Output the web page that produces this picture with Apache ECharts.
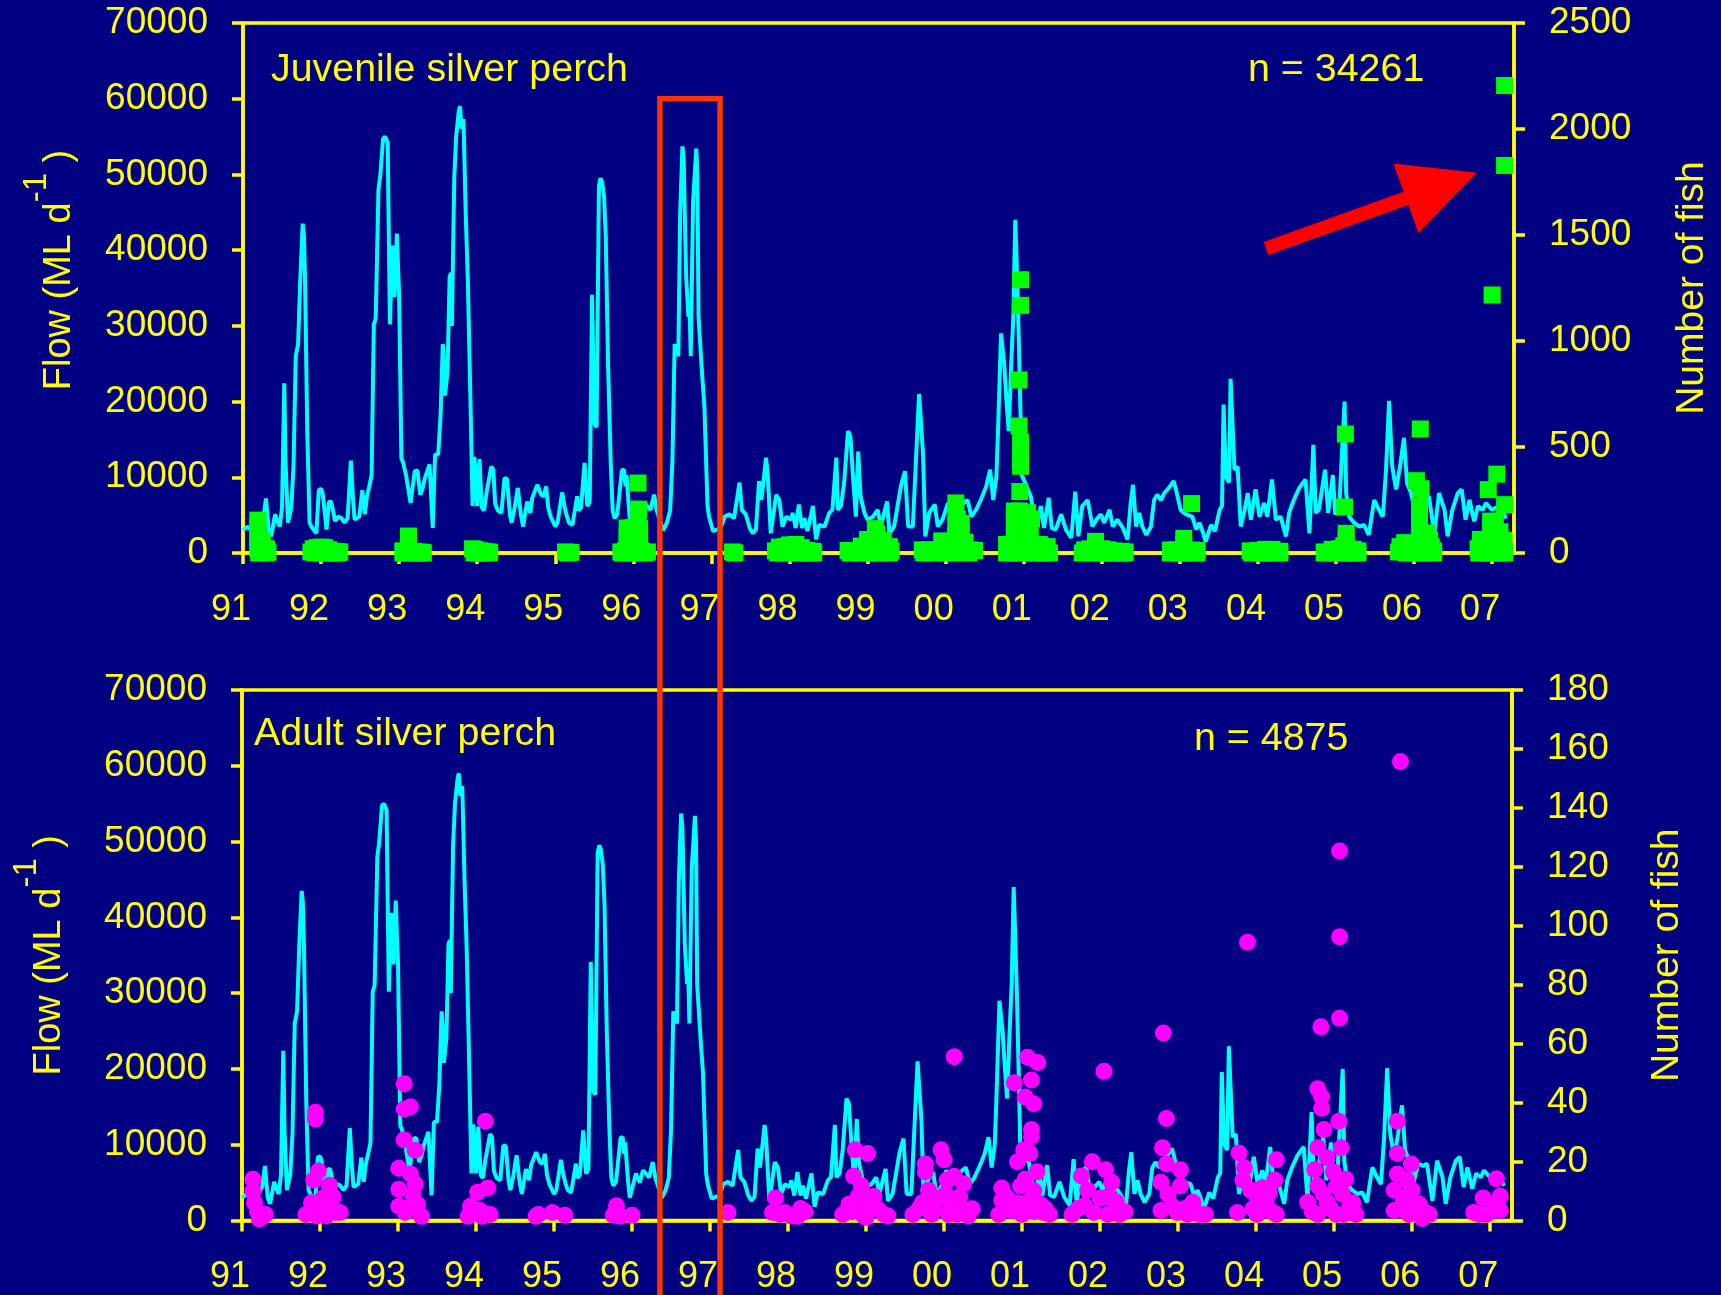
<!DOCTYPE html>
<html><head><meta charset="utf-8">
<script src="https://cdn.jsdelivr.net/npm/echarts@6/dist/echarts.min.js"></script>
<style>html,body{margin:0;padding:0;background:#000080;}#c{width:1721px;height:1295px;}</style>
</head><body><div id="c"></div>
<script>
// ---------- data ----------
const yearLabels = ['91','92','93','94','95','96','97','98','99','00','01','02','03','04','05','06','07'];
const flowTicks = [0,10000,20000,30000,40000,50000,60000,70000];
const juvenileTicks = [0,500,1000,1500,2000,2500];
const adultTicks = [0,20,40,60,80,100,120,140,160,180];

// daily flow (ML/d): [year, flow]
const flowData = [
[1991.00,3000],[1991.06,3500],[1991.12,2800],[1991.20,3200],[1991.26,4500],[1991.294,7200],[1991.33,3000],[1991.36,2200],[1991.412,5100],[1991.44,4200],[1991.471,3500],[1991.50,6000],[1991.529,22400],[1991.545,12000],[1991.576,4000],[1991.618,6000],[1991.647,11400],[1991.676,26000],[1991.706,27600],[1991.735,36500],[1991.765,43500],[1991.78,42000],[1991.794,36500],[1991.824,15600],[1991.853,4000],[1991.875,3500],[1991.94,2600],[1991.971,8300],[1992.00,8500],[1992.02,7900],[1992.05,5100],[1992.07,3100],[1992.10,6700],[1992.13,6800],[1992.18,4200],[1992.22,4800],[1992.26,4600],[1992.30,4000],[1992.34,4600],[1992.382,12200],[1992.41,7000],[1992.43,4400],[1992.49,4800],[1992.529,8300],[1992.56,5100],[1992.588,7500],[1992.618,8800],[1992.647,10300],[1992.676,30200],[1992.70,31000],[1992.735,48000],[1992.76,50000],[1992.794,54700],[1992.82,55000],[1992.853,54200],[1992.882,30200],[1992.912,40600],[1992.925,36000],[1992.941,33800],[1992.971,42200],[1992.985,38000],[1993.00,34000],[1993.029,12500],[1993.05,12000],[1993.088,10300],[1993.11,10300],[1993.147,6600],[1993.20,10800],[1993.235,10900],[1993.27,7700],[1993.30,8500],[1993.33,9900],[1993.39,11700],[1993.43,3300],[1993.46,13000],[1993.50,13000],[1993.53,18000],[1993.559,27600],[1993.575,25000],[1993.588,20800],[1993.62,24000],[1993.647,36500],[1993.665,37000],[1993.676,30000],[1993.706,49500],[1993.73,55000],[1993.765,58400],[1993.78,59000],[1993.80,56000],[1993.824,57300],[1993.853,44800],[1993.88,36000],[1993.912,20800],[1993.941,6200],[1993.965,12700],[1994.00,6200],[1994.029,12400],[1994.06,6000],[1994.088,5600],[1994.12,8000],[1994.18,11400],[1994.206,11000],[1994.23,6500],[1994.265,5600],[1994.31,5300],[1994.35,9900],[1994.382,9800],[1994.42,5000],[1994.441,4000],[1994.48,6000],[1994.52,8600],[1994.535,8800],[1994.56,5000],[1994.588,3500],[1994.64,6800],[1994.68,5300],[1994.706,7300],[1994.77,9000],[1994.794,9000],[1994.82,7700],[1994.854,7500],[1994.882,8800],[1994.91,6000],[1994.941,4800],[1995.00,3500],[1995.029,4000],[1995.088,8000],[1995.12,6000],[1995.15,4800],[1995.176,4000],[1995.22,3700],[1995.28,7500],[1995.30,5600],[1995.33,6000],[1995.375,11900],[1995.41,6200],[1995.441,6700],[1995.471,34100],[1995.50,17100],[1995.529,16600],[1995.559,48500],[1995.58,49500],[1995.60,49000],[1995.625,47000],[1995.647,41700],[1995.676,25000],[1995.71,12000],[1995.735,5600],[1995.76,4600],[1995.794,5100],[1995.853,10900],[1995.88,11000],[1995.90,8800],[1995.912,10300],[1995.95,5000],[1995.971,3000],[1996.05,6200],[1996.10,5000],[1996.14,6600],[1996.176,6200],[1996.22,5700],[1996.265,7700],[1996.30,5600],[1996.324,5600],[1996.382,3000],[1996.43,4000],[1996.471,5600],[1996.50,12000],[1996.529,27600],[1996.576,26000],[1996.60,45000],[1996.629,53700],[1996.645,52000],[1996.676,36500],[1996.706,31200],[1996.72,33000],[1996.735,26000],[1996.765,46400],[1996.806,53400],[1996.82,50000],[1996.835,31200],[1996.882,23400],
[1996.91,19400],[1996.95,6200],[1996.97,4800],[1997.02,2900],[1997.12,3300],[1997.17,4800],[1997.23,5100],[1997.29,4600],[1997.36,9300],[1997.39,5700],[1997.44,5100],[1997.49,3300],[1997.53,2600],[1997.57,3100],[1997.61,9500],[1997.64,7000],[1997.70,12600],[1997.72,10600],[1997.76,2600],[1997.83,7700],[1997.87,7000],[1997.91,3500],[1997.96,4800],[1998.02,4400],[1998.04,5300],[1998.08,3300],[1998.12,6400],[1998.16,3300],[1998.19,4600],[1998.23,2900],[1998.30,6200],[1998.34,1800],[1998.38,3700],[1998.45,3500],[1998.51,5300],[1998.55,5700],[1998.60,12600],[1998.62,5700],[1998.66,6200],[1998.70,9300],[1998.75,16100],[1998.78,15400],[1998.81,10600],[1998.85,4800],[1998.88,13400],[1998.91,7500],[1998.96,5300],[1999.00,4400],[1999.07,4800],[1999.13,5700],[1999.17,3500],[1999.25,6800],[1999.28,2600],[1999.34,3500],[1999.43,9000],[1999.48,10800],[1999.52,3500],[1999.58,3500],[1999.62,12300],[1999.66,21000],[1999.71,13200],[1999.74,2200],[1999.79,5300],[1999.86,6400],[1999.90,3500],[1999.96,4400],[2000.03,6600],[2000.09,5500],[2000.15,5300],[2000.22,6500],[2000.28,7000],[2000.33,4800],[2000.39,5700],[2000.45,7000],[2000.52,8800],[2000.57,11000],[2000.61,7000],[2000.65,10100],[2000.67,15800],[2000.71,29000],[2000.75,25000],[2000.78,20000],[2000.808,16100],[2000.84,25000],[2000.867,31200],[2000.892,44000],[2000.905,40000],[2000.933,30000],[2000.96,18000],[2000.975,10300],
[2001.09,7500],[2001.16,3100],[2001.22,6200],[2001.26,3300],[2001.32,7300],[2001.36,3300],[2001.41,3100],[2001.48,5100],[2001.54,3100],[2001.61,2000],[2001.66,8100],[2001.70,2200],[2001.75,6200],[2001.82,7000],[2001.88,3500],[2001.93,4400],[2001.99,5100],[2002.03,4000],[2002.10,5700],[2002.14,3500],[2002.20,4400],[2002.27,3300],[2002.33,1800],[2002.37,6600],[2002.40,9000],[2002.44,3500],[2002.48,5300],[2002.52,3500],[2002.57,2400],[2002.63,3500],[2002.67,7000],[2002.71,7700],[2002.76,7000],[2002.80,7900],[2002.86,8600],[2002.92,9500],[2002.95,8400],[2003.01,5700],[2003.08,5100],[2003.16,4800],[2003.21,3100],[2003.25,4000],[2003.29,2900],[2003.33,1500],[2003.40,3700],[2003.45,2900],[2003.51,5700],[2003.54,6200],[2003.56,19600],[2003.59,10100],[2003.63,9300],[2003.65,23000],[2003.70,11000],[2003.74,11400],[2003.78,3500],[2003.83,5700],[2003.87,7900],[2003.91,4400],[2003.97,8400],[2004.02,4800],[2004.08,6600],[2004.12,4800],[2004.18,9700],[2004.23,4400],[2004.29,4800],[2004.36,2200],[2004.40,5300],[2004.46,7000],[2004.53,8600],[2004.61,9700],[2004.66,2600],[2004.71,14300],[2004.74,5300],[2004.78,5700],
[2004.86,11000],[2004.90,5300],[2004.96,10300],[2004.99,5100],[2005.04,5700],[2005.11,20000],[2005.13,7900],[2005.17,4800],[2005.23,4000],[2005.30,3500],[2005.36,3700],[2005.42,2400],[2005.49,7000],[2005.55,5700],[2005.60,4800],[2005.64,10800],[2005.68,20100],[2005.72,11400],[2005.77,8400],[2005.82,11400],[2005.87,15200],[2005.91,9200],[2005.96,8000],[2006.02,5100],[2006.08,7500],[2006.14,7200],[2006.19,7500],[2006.26,2600],[2006.32,7900],[2006.39,5700],[2006.43,2200],[2006.49,5700],[2006.56,7900],[2006.61,8400],[2006.66,4400],[2006.71,7000],[2006.77,4200],[2006.82,6200],[2006.88,5700],[2006.92,6600],[2007.00,5700],[2007.09,6200],[2007.18,4600]
];

// juvenile silver perch catches: [year, number of fish]
const juvenileData = [
[1991.19,155],[1991.19,120],[1991.19,85],[1991.19,50],[1991.19,20],[1991.20,0],[1991.24,60],[1991.25,30],[1991.30,20],[1991.32,5],[1991.30,0],
[1991.87,5],[1991.90,20],[1991.95,25],[1992.00,28],[1992.05,25],[1992.10,15],[1992.15,8],[1992.20,6],[1992.24,5],[1991.92,0],[1992.02,0],[1992.12,0],[1992.22,0],
[1993.12,80],[1993.12,50],[1993.12,25],[1993.05,10],[1993.10,5],[1993.18,8],[1993.24,5],[1993.30,3],[1993.05,0],[1993.15,0],[1993.25,0],[1993.31,0],
[1993.94,20],[1993.98,15],[1994.03,10],[1994.08,8],[1994.14,5],[1994.16,3],[1993.96,0],[1994.06,0],[1994.15,0],
[1995.13,5],[1995.20,3],[1995.16,0],
[1996.06,330],[1996.07,207],[1996.06,160],[1995.92,118],[1996.00,120],[1996.08,115],[1995.92,80],[1996.00,80],[1996.08,80],[1995.92,45],[1996.00,45],[1996.08,45],[1995.90,10],[1996.00,10],[1996.10,10],[1995.84,5],[1996.18,5],[1995.86,0],[1996.00,0],[1996.15,0],
[1997.27,5],[1997.30,0],
[1997.82,10],[1997.87,28],[1997.95,30],[1998.00,38],[1998.08,40],[1998.15,25],[1998.22,12],[1998.30,8],[1997.85,0],[1997.95,0],[1998.05,10],[1998.12,0],[1998.25,0],[1998.31,0],
[1999.10,115],[1999.12,90],[1999.00,64],[1999.10,64],[1999.20,60],[1998.92,33],[1999.05,35],[1999.15,35],[1999.28,30],[1998.75,12],[1998.85,12],[1998.98,12],[1999.10,12],[1999.22,12],[1999.30,10],[1998.78,0],[1998.90,0],[1999.02,0],[1999.15,0],[1999.28,0],
[2000.13,236],[2000.13,195],[2000.15,160],[2000.20,140],[2000.13,120],[2000.20,100],[2000.13,85],[1999.95,57],[2000.05,55],[2000.15,55],[2000.25,50],[1999.70,15],[1999.80,15],[1999.90,15],[2000.00,15],[2000.10,15],[2000.20,15],[2000.30,15],[2000.37,12],[1999.72,0],[1999.85,0],[2000.00,0],[2000.15,0],[2000.30,0],
[2000.96,1289],[2000.96,1168],[2000.94,816],[2000.94,599],[2000.96,521],[2000.96,446],[2000.96,409],[2000.95,290],[2000.88,198],[2000.95,198],[2001.05,190],[2001.10,160],[2000.88,140],[2000.98,140],[2001.08,120],[2000.88,80],[2000.98,80],[2001.08,80],[2000.78,40],[2000.88,40],[2000.98,40],[2001.08,40],[2001.20,40],[2001.30,30],[2000.78,0],[2000.90,0],[2001.00,0],[2001.12,0],[2001.25,0],[2001.33,0],
[2001.92,55],[2001.78,15],[2001.85,20],[2002.00,20],[2002.08,15],[2002.15,10],[2002.25,8],[2002.30,5],[2001.75,0],[2001.88,0],[2002.00,0],[2002.12,0],[2002.22,0],[2002.29,0],
[2003.15,233],[2003.05,69],[2003.05,40],[2002.88,14],[2002.95,15],[2003.05,15],[2003.15,14],[2003.22,12],[2002.88,0],[2003.00,0],[2003.10,0],[2003.22,0],
[2003.90,10],[2004.00,12],[2004.10,17],[2004.18,17],[2004.28,8],[2003.92,0],[2004.05,0],[2004.15,0],[2004.28,0],
[2005.12,561],[2005.11,217],[2005.13,93],[2005.13,60],[2005.10,35],[2004.85,5],[2004.95,17],[2005.05,20],[2005.15,20],[2005.22,17],[2005.28,10],[2004.85,0],[2004.98,0],[2005.10,0],[2005.20,0],[2005.28,0],
[2006.08,585],[2006.03,341],[2006.09,303],[2006.07,220],[2006.07,157],[2006.07,94],[2006.07,31],[2006.16,95],[2006.20,60],[2006.22,30],[2006.25,10],[2005.82,30],[2005.88,49],[2005.95,45],[2005.80,5],[2005.90,0],[2006.00,0],[2006.12,0],[2006.25,0],
[2007.16,2205],[2007.16,1828],[2007.00,1217],[2007.06,372],[2006.95,299],[2007.16,228],[2006.98,150],[2007.04,150],[2006.98,100],[2007.10,100],[2006.85,64],[2006.95,64],[2007.05,64],[2007.15,60],[2006.82,20],[2006.92,20],[2007.02,20],[2007.12,20],[2007.16,10],[2006.83,0],[2006.95,0],[2007.08,0],[2007.16,0]
];

// adult silver perch catches: [year, number of fish]
const adultData = [
[1991.14,14],[1991.14,10],[1991.16,6],[1991.20,3],[1991.25,1],[1991.30,2],[1991.22,0.5],
[1991.94,36.7],[1991.94,34.4],[1991.98,16.8],[1991.92,13.7],[1992.12,12],[1992.04,7.6],[1991.89,6],[1992.01,5.5],[1992.13,5.5],[1992.20,2.7],[1991.82,2],[1992.26,2.7],[1992.08,1.5],[1991.96,1.5],[1992.17,8],[1992.06,3],
[1993.08,46.4],[1993.08,37.8],[1993.16,38.6],[1993.08,27.3],[1993.22,23.8],[1993.01,17.7],[1993.16,15.8],[1993.22,12.4],[1993.01,10.6],[1993.19,8.9],[1993.01,4.8],[1993.12,4.1],[1993.25,5.5],[1993.30,1.4],[1993.09,2.7],
[1994.12,33.7],[1994.15,11],[1994.02,9.6],[1993.93,4.8],[1994.05,3.4],[1994.18,2],[1993.90,1.4],[1994.08,1.4],
[1994.80,2],[1994.98,2.7],[1995.14,1.8],[1994.77,1.4],
[1995.80,5],[1995.76,1.8],[1995.85,1.4],[1996.00,1.8],
[1997.23,2.7],
[1997.84,7.6],[1997.80,2.7],[1997.96,2.7],[1998.12,1.4],[1998.16,4.1],[1998.04,1.5],[1997.90,2],[1998.22,3],
[1998.86,24],[1999.02,22.7],[1998.84,15],[1998.94,11.7],[1998.90,8.2],[1999.10,8.2],[1998.78,5.5],[1999.06,4.1],[1999.23,2],[1998.70,2],[1998.97,1.5],[1998.82,3],[1999.00,6],[1999.15,4],[1999.28,1.5],
[2000.13,55.6],[1999.96,24],[2000.00,20.6],[1999.76,19.2],[1999.76,16.5],[1999.80,10.3],[2000.04,13.7],[2000.13,15],[2000.25,12.4],[1999.92,7.6],[1999.68,4.1],[2000.09,5.5],[2000.29,3.4],[1999.60,2],[1999.84,2],[2000.17,2],[2000.31,1.5],[1999.72,6],[1999.88,4],[2000.02,9],[2000.20,8],[2000.36,4],[2000.06,2],
[2001.07,55.4],[2001.20,53.6],[2000.90,46.7],[2001.12,47.7],[2001.04,41.9],[2001.15,39.6],[2001.12,30.9],[2001.12,28.4],[2000.94,19.9],[2001.10,22.7],[2001.02,24],[2000.74,11],[2001.19,16.5],[2000.98,11.7],[2001.07,6.2],[2000.74,6.9],[2001.23,5.5],[2000.86,3.4],[2001.27,2.7],[2000.70,2],[2001.00,2],[2000.80,8],[2000.92,6],[2001.04,14],[2001.15,10],[2001.30,4],[2001.35,2],[2001.16,3],
[2002.05,50.6],[2001.90,19.9],[2002.07,17.2],[2001.76,15.1],[2002.15,13],[2001.84,10.3],[2002.00,7.6],[2002.21,6.2],[2001.72,4.1],[2001.92,2.7],[2002.25,2],[2001.64,2],[2002.10,2],[2001.80,5],[1999.0,1],[2002.12,8],[2002.32,3],
[2002.81,63.6],[2002.85,34.6],[2002.80,24.7],[2002.85,19.2],[2003.03,17.2],[2002.78,13],[2003.03,11.7],[2002.87,8.9],[2003.19,6.2],[2002.78,3.4],[2002.99,2.7],[2003.27,2],[2003.12,2],[2002.92,5],[2003.08,4],[2003.35,2],
[2003.89,94.4],[2004.26,20.6],[2003.78,22.9],[2003.85,17.9],[2003.83,13.7],[2004.24,13.7],[2003.93,10.3],[2004.01,8.2],[2004.17,9.6],[2004.13,6.2],[2003.76,2.7],[2004.01,2],[2004.26,2],[2003.96,4],[2004.08,11],[2004.20,3],
[2005.07,125.4],[2005.07,96.3],[2005.07,68.6],[2004.83,65.7],[2004.79,44.7],[2004.84,41.9],[2004.84,38.1],[2005.06,33.7],[2004.87,30.9],[2005.09,24.7],[2004.79,24.7],[2004.91,21.3],[2004.75,17.2],[2004.99,16.5],[2004.79,11.7],[2005.03,11.7],[2005.11,8.9],[2004.66,6.2],[2004.91,6.2],[2005.20,5.5],[2005.28,2],[2004.79,2],[2005.03,2],[2004.72,3],[2004.86,9],[2004.96,4],[2005.15,14],[2005.24,6],[2005.12,2],
[2005.85,155.7],[2005.81,33.7],[2005.81,22.7],[2005.99,19.2],[2005.81,15.8],[2005.93,13.7],[2005.77,10.3],[2006.00,10.3],[2005.89,6.9],[2006.09,5.5],[2005.77,3.4],[2006.17,2.7],[2006.13,0.7],[2005.96,2],[2005.84,4],[2005.94,8],[2006.04,3],[2006.22,2],
[2007.08,14.2],[2006.91,7.6],[2007.13,8.2],[2007.04,5.5],[2006.79,2.7],[2006.95,2],[2007.13,3.4],[2006.86,2],[2007.00,3]
];

// ---------- styles ----------
const YEL = '#FFFF00';
const FF = 'Liberation Sans, Arial, sans-serif';
const AXW = 3.5;

function xAxisFor(gi, margin) {
  return {
    type: 'value', gridIndex: gi, min: 1991, max: 2007.28, interval: 1,
    axisLine: { lineStyle: { color: YEL, width: AXW } },
    axisTick: { length: 11, lineStyle: { color: YEL, width: AXW } },
    splitLine: { show: false },
    axisLabel: {
      color: YEL, fontSize: 36, fontFamily: FF, margin: margin, padding: [0, 24, 0, 0],
      showMaxLabel: false,
      formatter: v => Number.isInteger(v) ? yearLabels[v - 1991] : ''
    }
  };
}
function yAxisFor(gi, pos, max, interval, name, nameGap, nameStyle) {
  return {
    type: 'value', gridIndex: gi, position: pos, min: 0, max: max, interval: interval,
    axisLine: { show: true, lineStyle: { color: YEL, width: AXW } },
    axisTick: { show: true, length: 11, lineStyle: { color: YEL, width: AXW } },
    splitLine: { show: false },
    axisLabel: { color: YEL, fontSize: 37, fontFamily: FF, margin: 35, padding: [7, 0, 0, 0],
      formatter: v => String(v) },
    name: name, nameLocation: 'middle', nameGap: nameGap,
    nameTextStyle: nameStyle
  };
}
const flowName = '{a|Flow (ML d}{s|-1}{a| )}';
function flowNameStyle(shift) {
  return {
    color: YEL, fontFamily: FF, fontSize: 38, padding: [0, 0, 0, shift],
    rich: {
      a: { color: YEL, fontFamily: FF, fontSize: 38, lineHeight: 80 },
      s: { color: YEL, fontFamily: FF, fontSize: 33, lineHeight: 33, verticalAlign: 'top' }
    }
  };
}
const fishNameStyle = { color: YEL, fontFamily: FF, fontSize: 39 };

const chart = echarts.init(document.getElementById('c'), null, { renderer: 'canvas' });
chart.setOption({
  backgroundColor: '#000080',
  animation: false,
  grid: [
    { left: 243, top: 23, width: 1271, height: 530, show: true, borderColor: YEL, borderWidth: AXW, backgroundColor: 'transparent' },
    { left: 242, top: 690, width: 1270, height: 531, show: true, borderColor: YEL, borderWidth: AXW, backgroundColor: 'transparent' }
  ],
  xAxis: [xAxisFor(0, 39), xAxisFor(1, 38.5)],
  yAxis: [
    yAxisFor(0, 'left', flowTicks[flowTicks.length - 1], flowTicks[1], flowName, 143, flowNameStyle(36)),
    yAxisFor(0, 'right', juvenileTicks[juvenileTicks.length - 1], juvenileTicks[1], 'Number of fish', 159, fishNameStyle),
    yAxisFor(1, 'left', flowTicks[flowTicks.length - 1], flowTicks[1], flowName, 152, flowNameStyle(0)),
    yAxisFor(1, 'right', adultTicks[adultTicks.length - 1], adultTicks[1], 'Number of fish', 136, fishNameStyle)
  ],
  series: [
    { type: 'line', xAxisIndex: 0, yAxisIndex: 0, data: flowData, showSymbol: false, symbol: 'none',
      lineStyle: { color: '#00FFFF', width: 4 }, z: 2 },
    { type: 'scatter', xAxisIndex: 0, yAxisIndex: 1, data: juvenileData, symbol: 'rect', symbolSize: 17,
      itemStyle: { color: '#00FF00', opacity: 1 }, clip: false, z: 3 },
    { type: 'line', xAxisIndex: 1, yAxisIndex: 2, data: flowData, showSymbol: false, symbol: 'none',
      lineStyle: { color: '#00FFFF', width: 4 }, z: 2 },
    { type: 'scatter', xAxisIndex: 1, yAxisIndex: 3, data: adultData, symbol: 'circle', symbolSize: 17,
      itemStyle: { color: '#FF00FF', opacity: 1 }, clip: false, z: 3 }
  ]
});

// annotation: red box over the 1996/97 flood, spanning both panels
const boxLeft = chart.convertToPixel({ xAxisIndex: 0 }, 1996.34);
const boxRight = chart.convertToPixel({ xAxisIndex: 0 }, 1997.11);
const boxTop = chart.convertToPixel({ yAxisIndex: 0 }, 60000);

const txt = (x, y, s) => ({
  type: 'text', x: x, y: y, z: 50,
  style: { text: s, fill: YEL, fontSize: 39.4, fontFamily: FF, align: 'left', verticalAlign: 'middle' }
});
chart.setOption({
  graphic: [
    txt(271, 70, 'Juvenile silver perch'),
    txt(1248, 70, 'n = 34261'),
    txt(254, 734.5, 'Adult silver perch'),
    txt(1194, 739.5, 'n = 4875'),
    { type: 'rect', z: 60, shape: { x: boxLeft, y: boxTop, width: boxRight - boxLeft, height: 1400 - boxTop },
      style: { fill: 'none', stroke: '#FF3300', lineWidth: 5.5 } },
    { type: 'polygon', z: 60,
      shape: { points: [[1263.6,241.9],[1403.5,191.7],[1393.4,163.5],[1477,172.8],[1418.4,233.1],[1408.3,204.9],[1268.4,255.1]] },
      style: { fill: '#FF0000' } }
  ]
});
</script>
</body></html>
